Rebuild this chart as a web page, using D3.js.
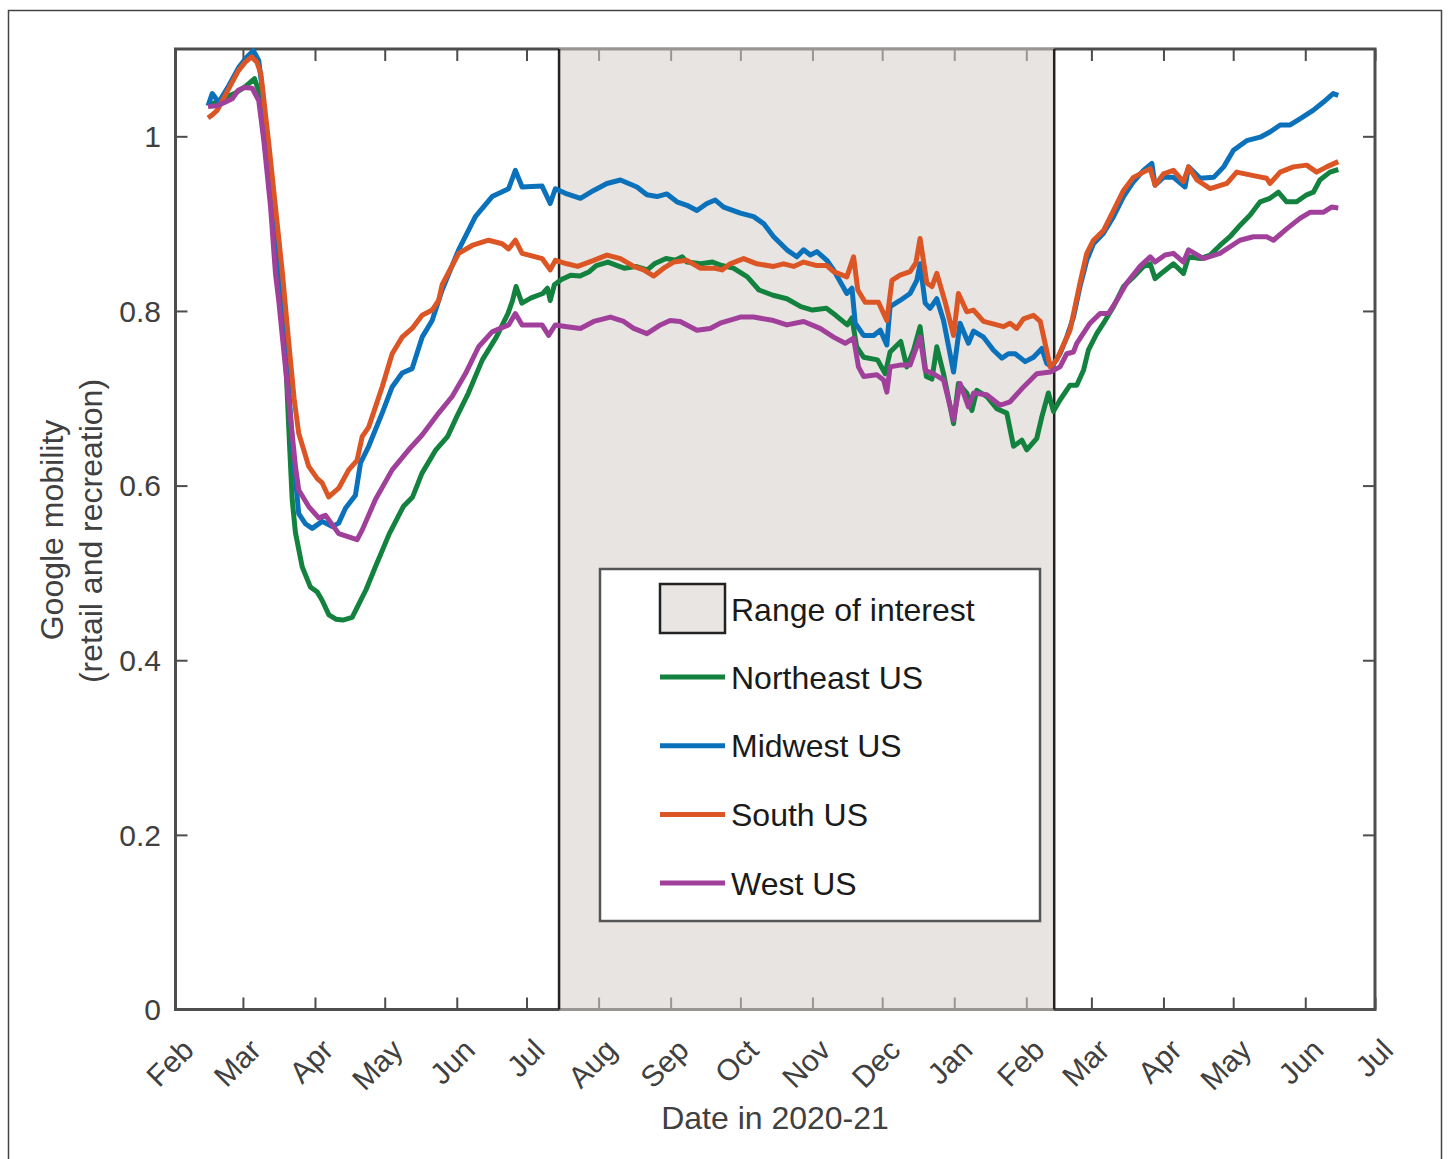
<!DOCTYPE html>
<html>
<head>
<meta charset="utf-8">
<script src="https://cdn.jsdelivr.net/npm/d3@7"></script>
<style>
  body { margin: 0; background: #fff; }
  svg { font-family: "Liberation Sans", Arial, sans-serif; }
</style>
</head>
<body>
<div id="chart"></div>
<script>
// data: [days since 2020-02-01, mobility]
var northeast = [
  [14, 1.035], [18, 1.04], [22, 1.045], [26, 1.05], [30, 1.057], [34, 1.066], [36, 1.05], [38, 1.0],
  [41, 0.93], [43, 0.86], [45, 0.81], [47.3, 0.75], [49, 0.65], [50.2, 0.584], [51.6, 0.546], [54.5, 0.507],
  [58, 0.484], [61, 0.478], [63, 0.469], [66, 0.452], [69, 0.447], [72, 0.446], [76, 0.449], [79, 0.465],
  [82, 0.481], [86, 0.507], [92, 0.545], [98, 0.576], [102, 0.587], [106, 0.614], [112, 0.641], [117, 0.656],
  [121, 0.679], [126, 0.706], [132, 0.744], [138, 0.77], [143, 0.797], [145, 0.812], [146.5, 0.828],
  [149, 0.809], [153, 0.815], [158, 0.82], [160, 0.826], [161.2, 0.812], [163, 0.83], [166, 0.836],
  [170, 0.841], [174, 0.84], [178, 0.845], [181, 0.852], [186, 0.856], [190, 0.852], [193, 0.849],
  [198, 0.851], [203, 0.847], [206, 0.854], [211, 0.86], [215, 0.858], [218, 0.862], [220, 0.856],
  [226, 0.854], [231, 0.856], [235, 0.852], [240, 0.849], [246, 0.839], [251, 0.824], [257, 0.818],
  [263, 0.814], [269, 0.805], [274, 0.801], [280, 0.803], [284, 0.795], [289, 0.784], [291, 0.792],
  [293, 0.759], [296, 0.747], [302, 0.744], [305.3, 0.728], [307.4, 0.753], [312, 0.765], [314.6, 0.736],
  [317.5, 0.755], [320.3, 0.782], [323, 0.725], [325.4, 0.722], [327.5, 0.759], [330.4, 0.728],
  [334.7, 0.671], [336.8, 0.717], [340.4, 0.706], [342.6, 0.686], [344.7, 0.709], [349, 0.702],
  [353.3, 0.688], [357.6, 0.683], [360.5, 0.645], [364.1, 0.652], [366.2, 0.641], [370.5, 0.654],
  [372.7, 0.679], [375.5, 0.706], [377.7, 0.685], [380.5, 0.698], [384.8, 0.715], [387.7, 0.715],
  [390.6, 0.732], [392.7, 0.755], [396.3, 0.774], [399.2, 0.786], [403.5, 0.805], [407.8, 0.828],
  [412.1, 0.839], [416.4, 0.851], [419.3, 0.854], [421.4, 0.837], [425, 0.845], [429.3, 0.854],
  [433.6, 0.843], [435.8, 0.862], [440.8, 0.86], [445.1, 0.864], [449.3, 0.875], [453.6, 0.885],
  [457.9, 0.898], [462.3, 0.91], [466.6, 0.925], [470.8, 0.929], [474.4, 0.936], [478, 0.925],
  [482.3, 0.925], [486.6, 0.933], [489.5, 0.936], [492.3, 0.95], [496.6, 0.959], [500.2, 0.962]
];

var midwest = [
  [14, 1.035], [15.8, 1.049], [18.6, 1.039], [22.9, 1.058], [27.2, 1.079], [30.8, 1.091], [33.5, 1.098],
  [35.8, 1.087], [37.5, 1.05], [40, 0.97], [43, 0.88], [46, 0.8], [48.5, 0.72], [50.5, 0.64], [53, 0.568],
  [56, 0.556], [58.8, 0.551], [63.1, 0.559], [67.4, 0.553], [70.2, 0.557], [73.1, 0.574], [77.4, 0.589],
  [79.6, 0.626], [83.1, 0.645], [88.9, 0.683], [93.2, 0.713], [97.5, 0.729], [101.8, 0.734], [106.1, 0.77],
  [110.4, 0.789], [114.7, 0.824], [121.8, 0.87], [129, 0.908], [136.2, 0.931], [143.3, 0.94], [146.2, 0.961],
  [149.1, 0.942], [157.7, 0.943], [161.2, 0.923], [163.4, 0.94], [168.4, 0.934], [174.2, 0.929],
  [179.9, 0.938], [185.6, 0.946], [191.4, 0.95], [198.5, 0.942], [202.8, 0.933], [207.1, 0.931],
  [211.4, 0.934], [215.7, 0.925], [220, 0.921], [224.3, 0.915], [228.6, 0.923], [232.2, 0.927],
  [235.8, 0.919], [243, 0.912], [248.7, 0.908], [253, 0.9], [257.3, 0.885], [263, 0.87], [267.3, 0.862],
  [270.2, 0.87], [273.1, 0.864], [275.9, 0.868], [280.2, 0.858], [283.1, 0.847], [288.8, 0.82],
  [291, 0.826], [292.4, 0.786], [296, 0.772], [300.3, 0.772], [303.2, 0.778], [306, 0.761], [307.4, 0.805],
  [311.7, 0.812], [316, 0.82], [318.9, 0.835], [320.3, 0.854], [322.5, 0.809], [324.6, 0.803],
  [327.5, 0.814], [330.4, 0.789], [334.7, 0.73], [337.5, 0.786], [341.1, 0.763], [343.3, 0.777],
  [347.6, 0.77], [351.9, 0.755], [355.5, 0.746], [358.3, 0.751], [361.2, 0.751], [365.5, 0.742],
  [369.1, 0.747], [372.7, 0.757], [374.8, 0.74], [377, 0.736], [380.5, 0.751], [383.4, 0.77],
  [386.3, 0.793], [389.1, 0.828], [392, 0.858], [394.9, 0.877], [399.2, 0.889], [403.5, 0.908],
  [407.8, 0.931], [412.1, 0.948], [416.4, 0.961], [420, 0.969], [421.4, 0.944], [425, 0.953],
  [429.3, 0.953], [434.3, 0.942], [435.8, 0.965], [440.8, 0.952], [446.6, 0.953], [450.9, 0.965],
  [455.1, 0.984], [460.8, 0.995], [466.6, 0.999], [470.8, 1.005], [475.2, 1.013], [479.5, 1.013],
  [483.7, 1.02], [489.5, 1.03], [493.7, 1.039], [498, 1.049], [500.2, 1.047]
];

var south = [
  [14, 1.021], [16, 1.025], [18, 1.03], [21, 1.045], [24, 1.06], [27, 1.075], [30, 1.085], [32.7, 1.091],
  [35, 1.085], [36.7, 1.072], [40, 0.995], [43, 0.919], [46, 0.843], [48.6, 0.767], [51, 0.7], [53, 0.66],
  [57.3, 0.622], [61, 0.608], [63.1, 0.603], [65.9, 0.587], [70.2, 0.597], [74.5, 0.618], [78.1, 0.629],
  [80.3, 0.656], [83.1, 0.667], [88.9, 0.713], [93.2, 0.751], [97.5, 0.77], [101.8, 0.78], [106.1, 0.795],
  [110.4, 0.801], [113.2, 0.812], [114.7, 0.83], [121.8, 0.866], [127.6, 0.875], [134.7, 0.881],
  [140.5, 0.877], [143.3, 0.871], [146.2, 0.881], [149.1, 0.866], [157.7, 0.86], [161.2, 0.847],
  [163.4, 0.858], [168.4, 0.854], [173, 0.851], [179.9, 0.858], [185.6, 0.864], [191.4, 0.86],
  [197.1, 0.851], [201.4, 0.847], [205.7, 0.84], [210, 0.849], [214.3, 0.856], [220, 0.858],
  [225.7, 0.849], [231.5, 0.849], [235.1, 0.847], [238.6, 0.854], [244.4, 0.86], [250.1, 0.854],
  [257.3, 0.851], [261.6, 0.854], [265.9, 0.851], [270.2, 0.856], [275.9, 0.852], [280.2, 0.852],
  [283.1, 0.845], [288.8, 0.839], [291.7, 0.862], [293.5, 0.824], [296.7, 0.81], [302.4, 0.81],
  [306, 0.789], [308.2, 0.835], [311.7, 0.841], [316, 0.845], [318.5, 0.855], [320.3, 0.883],
  [323.2, 0.832], [325.4, 0.828], [327.5, 0.843], [331.1, 0.81], [334.7, 0.772], [336.8, 0.82],
  [340.4, 0.799], [343.3, 0.801], [347.6, 0.788], [353.3, 0.784], [356.2, 0.782], [359, 0.786],
  [361.9, 0.78], [364.8, 0.791], [369.1, 0.795], [372, 0.788], [376.3, 0.736], [379.1, 0.744],
  [384.8, 0.778], [389.1, 0.832], [392, 0.866], [394.9, 0.881], [399.2, 0.892], [403.5, 0.915],
  [407.8, 0.938], [412.1, 0.953], [416.4, 0.959], [419.3, 0.963], [421.4, 0.944], [425, 0.957],
  [429.3, 0.961], [433.6, 0.948], [435.8, 0.965], [439.4, 0.95], [445.1, 0.94], [452.3, 0.946],
  [456.5, 0.959], [463.7, 0.955], [469.4, 0.952], [470.8, 0.946], [475.2, 0.959], [480.9, 0.965],
  [486.6, 0.967], [490.9, 0.959], [495.2, 0.965], [500.2, 0.971]
];

var west = [
  [14, 1.034], [18, 1.035], [22, 1.04], [24.4, 1.043], [27.1, 1.053], [30, 1.056], [33, 1.055],
  [35.8, 1.041], [38, 0.995], [40.9, 0.919], [43, 0.843], [44.4, 0.812], [48.7, 0.698], [51.6, 0.622],
  [53, 0.595], [57.3, 0.576], [61.6, 0.563], [64.5, 0.566], [70.2, 0.545], [78.1, 0.538], [80.3, 0.549],
  [86, 0.584], [93.2, 0.618], [100.3, 0.641], [106.1, 0.658], [113.2, 0.683], [119, 0.702], [124.7, 0.728],
  [130.4, 0.759], [136.2, 0.776], [143.3, 0.784], [146.2, 0.797], [149.1, 0.784], [157.7, 0.784],
  [160.5, 0.772], [163.4, 0.784], [168.4, 0.782], [174.2, 0.78], [179.9, 0.788], [187.1, 0.793],
  [192.8, 0.788], [197.1, 0.78], [202.8, 0.774], [208.6, 0.784], [212.8, 0.789], [217.1, 0.788],
  [224.3, 0.778], [230, 0.78], [234.3, 0.786], [243, 0.793], [248.7, 0.793], [257.3, 0.789],
  [263, 0.784], [270.2, 0.788], [277.3, 0.78], [283.1, 0.77], [288.1, 0.763], [291.7, 0.769],
  [293.8, 0.736], [296, 0.725], [301.7, 0.727], [304.6, 0.721], [306, 0.707], [307.4, 0.736],
  [311.7, 0.738], [316, 0.738], [320.3, 0.77], [322.5, 0.732], [326.1, 0.728], [330.4, 0.721],
  [334.7, 0.675], [337.5, 0.717], [341.1, 0.69], [343.3, 0.706], [349, 0.704], [354.7, 0.692],
  [359, 0.696], [364.8, 0.713], [370.5, 0.728], [376.3, 0.73], [380.5, 0.736], [383.4, 0.751],
  [386.3, 0.753], [387.7, 0.763], [393.4, 0.786], [397.7, 0.797], [401.3, 0.797], [404.9, 0.812],
  [409.2, 0.832], [414.9, 0.851], [419.3, 0.862], [421.4, 0.856], [425.7, 0.864], [429.3, 0.866],
  [433.6, 0.856], [435.8, 0.87], [442.2, 0.86], [449.3, 0.866], [457.9, 0.881], [463.7, 0.885],
  [469.4, 0.885], [472.3, 0.881], [478, 0.894], [483.7, 0.906], [488, 0.913], [493.7, 0.913],
  [497.3, 0.919], [500.2, 0.918]
];

var seriesNames = ["Northeast US", "Midwest US", "South US", "West US"];
var seriesColors = ["#13823f", "#0b71bb", "#dc5524", "#a1409b"];
var rangeOfInterest = ["2020-07-15", "2021-02-13"];
var yTicks = [0, 0.2, 0.4, 0.6, 0.8, 1];

// layout
var svgWidth = 1448;
var svgHeight = 1159;
var plot = { left: 175.5, right: 1375, top: 49, bottom: 1009.5 };

var svg = d3.select("#chart").append("svg")
  .attr("width", svgWidth)
  .attr("height", svgHeight);

// outer frame
svg.append("path")
  .attr("d", "M8.5,1159 V10.5 H1441.5 V1159")
  .attr("fill", "none")
  .attr("stroke", "#444")
  .attr("stroke-width", 1.5);

var day0 = Date.UTC(2020, 1, 1);
function toDate(d) { return new Date(day0 + d * 864e5); }

var x = d3.scaleUtc()
  .domain([new Date(Date.UTC(2020, 1, 1)), new Date(Date.UTC(2021, 6, 1))])
  .range([plot.left, plot.right]);

var y = d3.scaleLinear()
  .domain([0, 1.1])
  .range([plot.bottom, plot.top]);

var axisColor = "#4d4d4d";
var textColor = "#404040";
var monthTicks = x.ticks(d3.utcMonth.every(1));

// axes with inward ticks on all four sides
var axes = svg.append("g");
var tickLen = 12;

var bottomAxis = d3.axisBottom(x).tickValues(monthTicks).tickSize(-tickLen).tickFormat("");
var topAxis = d3.axisTop(x).tickValues(monthTicks).tickSize(-tickLen).tickFormat("");
var leftAxis = d3.axisLeft(y).tickValues(yTicks).tickSize(-tickLen).tickFormat("");
var rightAxis = d3.axisRight(y).tickValues(yTicks).tickSize(-tickLen).tickFormat("");

axes.append("g").attr("transform", `translate(0,${plot.bottom})`).call(bottomAxis);
axes.append("g").attr("transform", `translate(0,${plot.top})`).call(topAxis);
axes.append("g").attr("transform", `translate(${plot.left},0)`).call(leftAxis);
axes.append("g").attr("transform", `translate(${plot.right},0)`).call(rightAxis);

axes.selectAll(".domain").remove();
axes.selectAll(".tick line").attr("stroke", axisColor).attr("stroke-width", 2);

axes.append("rect")
  .attr("x", plot.left)
  .attr("y", plot.top)
  .attr("width", plot.right - plot.left)
  .attr("height", plot.bottom - plot.top)
  .attr("fill", "none")
  .attr("stroke", axisColor)
  .attr("stroke-width", 3);

// shaded range of interest (semi-transparent, drawn over the axes)
var r0 = x(new Date(rangeOfInterest[0]));
var r1 = x(new Date(rangeOfInterest[1]));

svg.append("rect")
  .attr("x", r0)
  .attr("y", plot.top - 1.5)
  .attr("width", r1 - r0)
  .attr("height", plot.bottom - plot.top + 3)
  .attr("fill", "rgb(212,207,202)")
  .attr("fill-opacity", 0.56);

[r0, r1].forEach(function (xx) {
  svg.append("line")
    .attr("x1", xx).attr("x2", xx)
    .attr("y1", plot.top).attr("y2", plot.bottom)
    .attr("stroke", "#222")
    .attr("stroke-width", 2.5);
});

// tick labels
svg.append("g").selectAll("text")
  .data(yTicks)
  .join("text")
  .attr("x", 161)
  .attr("y", (d) => y(d))
  .attr("dy", "0.36em")
  .attr("text-anchor", "end")
  .attr("font-size", 30)
  .attr("fill", textColor)
  .text((d) => d3.format("~g")(d));

svg.append("g").selectAll("text")
  .data(monthTicks)
  .join("text")
  .attr("transform", (d) => `translate(${x(d) + 20},${1052}) rotate(-45)`)
  .attr("text-anchor", "end")
  .attr("font-size", 30)
  .attr("fill", textColor)
  .text(d3.utcFormat("%b"));

// axis titles
svg.append("text")
  .attr("x", 775)
  .attr("y", 1129)
  .attr("text-anchor", "middle")
  .attr("font-size", 32)
  .attr("fill", textColor)
  .text("Date in 2020-21");

svg.append("text")
  .attr("transform", "translate(63,530) rotate(-90)")
  .attr("text-anchor", "middle")
  .attr("font-size", 32)
  .attr("fill", textColor)
  .text("Google mobility");

svg.append("text")
  .attr("transform", "translate(102,531) rotate(-90)")
  .attr("text-anchor", "middle")
  .attr("font-size", 32)
  .attr("fill", textColor)
  .text("(retail and recreation)");

// lines
var line = d3.line()
  .x((d) => x(toDate(d[0])))
  .y((d) => y(d[1]));

var allSeries = [northeast, midwest, south, west];

svg.append("g").selectAll("path")
  .data(allSeries)
  .join("path")
  .attr("d", line)
  .attr("fill", "none")
  .attr("stroke", (d, i) => seriesColors[i])
  .attr("stroke-width", 5)
  .attr("stroke-linejoin", "round");

// legend
var legend = svg.append("g").attr("transform", "translate(600,569)");

legend.append("rect")
  .attr("width", 440)
  .attr("height", 352)
  .attr("fill", "#fff")
  .attr("stroke", "#555")
  .attr("stroke-width", 2.5);

legend.append("rect")
  .attr("x", 60)
  .attr("y", 15)
  .attr("width", 65)
  .attr("height", 49)
  .attr("fill", "#e8e5e2")
  .attr("stroke", "#222")
  .attr("stroke-width", 2.5);

legend.append("text")
  .attr("x", 131)
  .attr("y", 40)
  .attr("dy", "0.36em")
  .attr("font-size", 32)
  .attr("fill", "#1a1a1a")
  .text("Range of interest");

var entries = legend.selectAll(".entry")
  .data(seriesNames)
  .join("g")
  .attr("class", "entry")
  .attr("transform", (d, i) => `translate(0,${108 + i * 68.7})`);

entries.append("line")
  .attr("x1", 60).attr("x2", 125)
  .attr("stroke", (d, i) => seriesColors[i])
  .attr("stroke-width", 5);

entries.append("text")
  .attr("x", 131)
  .attr("dy", "0.36em")
  .attr("font-size", 32)
  .attr("fill", "#1a1a1a")
  .text((d) => d);
</script>
</body>
</html>
